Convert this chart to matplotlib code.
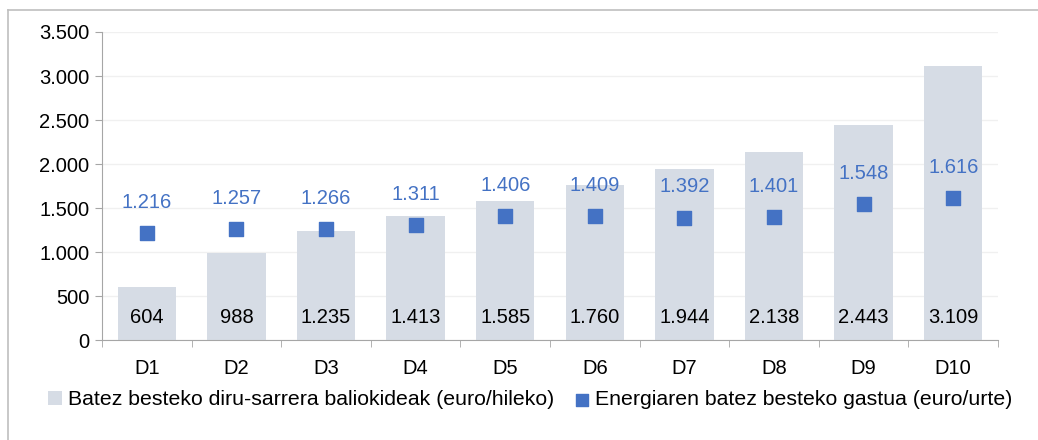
import matplotlib
matplotlib.use("Agg")
import matplotlib.pyplot as plt
from matplotlib.lines import Line2D
from matplotlib.ticker import FuncFormatter
import numpy as np

plt.rcParams['font.family'] = ['Liberation Sans', 'DejaVu Sans']

deciles = ['D1', 'D2', 'D3', 'D4', 'D5', 'D6', 'D7', 'D8', 'D9', 'D10']
income = [604, 988, 1235, 1413, 1585, 1760, 1944, 2138, 2443, 3109]
energy = [1216, 1257, 1266, 1311, 1406, 1409, 1392, 1401, 1548, 1616]

bar_color = '#D6DCE5'
dot_color = '#4472C4'
fs = 14.5


def fmt(v):
    return f'{int(v):,}'.replace(',', '.')


fig = plt.figure(figsize=(10.38, 4.4), dpi=100)
ax = fig.add_axes([102 / 1038, 1 - 340 / 440, (998 - 102) / 1038, (340 - 32) / 440])

x = np.arange(len(deciles))
bars = ax.bar(x, income, width=0.65, color=bar_color, zorder=2,
              label='Batez besteko diru-sarrera baliokideak (euro/hileko)')
dots = ax.scatter(x, energy, marker='s', s=105, color=dot_color, zorder=3,
                  label='Energiaren batez besteko gastua (euro/urte)')

for i in range(len(deciles)):
    ax.text(x[i], 260, fmt(income[i]), ha='center', va='center', fontsize=fs, color='black', zorder=4)
    ax.annotate(fmt(energy[i]), (x[i], energy[i]), xytext=(0, 22), textcoords='offset points',
                ha='center', va='center', fontsize=fs, color=dot_color, zorder=4)

ax.set_xlim(-0.5, len(deciles) - 0.5)
ax.set_ylim(0, 3500)
ax.set_yticks(np.arange(0, 3501, 500))
ax.yaxis.set_major_formatter(FuncFormatter(lambda v, p: fmt(v)))
ax.set_xticks(x)
ax.set_xticklabels(deciles)
ax.set_xticks(np.arange(-0.5, len(deciles), 1), minor=True)
ax.tick_params(axis='x', which='major', length=0, pad=14, labelsize=fs)
ax.tick_params(axis='x', which='minor', length=5, color='#A6A6A6')
ax.tick_params(axis='y', length=5, color='#A6A6A6', labelsize=fs, pad=4)
ax.grid(axis='y', color='#F0F0F0', linewidth=1, zorder=0)
for s in ['top', 'right']:
    ax.spines[s].set_visible(False)
ax.spines['left'].set_color('#A6A6A6')
ax.spines['bottom'].set_color('#A6A6A6')

ax.legend(handles=[bars, dots], loc='upper left', bbox_to_anchor=(-0.0695, -0.135), ncol=2,
          frameon=False, fontsize=15.3, handlelength=0.65, handleheight=0.65, handletextpad=0.3,
          columnspacing=0.95, borderaxespad=0, markerscale=0.9)

# outer chart frame
fig.add_artist(Line2D([8 / 1038, 8 / 1038], [1 - 10 / 440, 0], color='#BFBFBF', lw=1.2))
fig.add_artist(Line2D([8 / 1038, 1], [1 - 10 / 440, 1 - 10 / 440], color='#BFBFBF', lw=1.2))

fig.savefig('out.png', dpi=100)
